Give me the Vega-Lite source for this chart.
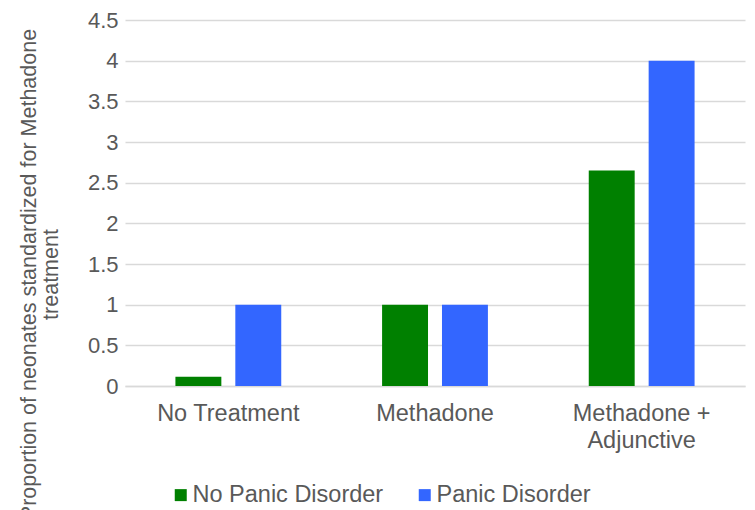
{
  "$schema": "https://vega.github.io/schema/vega-lite/v6.json",
  "width": 620,
  "height": 366,
  "autosize": {"type": "none"},
  "padding": {"left": 125, "top": 20, "right": 10, "bottom": 124},
  "background": "white",
  "config": {
    "view": {"stroke": null},
    "font": "Liberation Sans"
  },
  "data": {
    "values": [
      {"treatment": "No Treatment", "group": "No Panic Disorder", "value": 0.115},
      {"treatment": "No Treatment", "group": "Panic Disorder", "value": 1},
      {"treatment": "Methadone", "group": "No Panic Disorder", "value": 1},
      {"treatment": "Methadone", "group": "Panic Disorder", "value": 1},
      {"treatment": "Methadone + Adjunctive", "group": "No Panic Disorder", "value": 2.65},
      {"treatment": "Methadone + Adjunctive", "group": "Panic Disorder", "value": 4}
    ]
  },
  "mark": {"type": "bar"},
  "encoding": {
    "x": {
      "field": "treatment",
      "type": "nominal",
      "sort": ["No Treatment", "Methadone", "Methadone + Adjunctive"],
      "scale": {"paddingInner": 0, "paddingOuter": 0},
      "axis": {
        "title": null,
        "labelAngle": 0,
        "labelFontSize": 23.5,
        "labelColor": "#595959",
        "labelPadding": 15,
        "labelLineHeight": 27,
        "labelExpr": "datum.label == 'Methadone + Adjunctive' ? ['Methadone +', 'Adjunctive'] : datum.label",
        "ticks": false,
        "domainColor": "#d9d9d9",
        "domainWidth": 1.5,
        "grid": false
      }
    },
    "xOffset": {
      "field": "group",
      "type": "nominal",
      "sort": ["No Panic Disorder", "Panic Disorder"],
      "scale": {"paddingInner": 0.2333, "paddingOuter": 0.8417}
    },
    "y": {
      "field": "value",
      "type": "quantitative",
      "scale": {"domain": [0, 4.5], "nice": false},
      "axis": {
        "values": [0, 0.5, 1, 1.5, 2, 2.5, 3, 3.5, 4, 4.5],
        "format": "~g",
        "title": ["Proportion of neonates standardized for Methadone", "treatment"],
        "titleFontSize": 21.5,
        "titleFontWeight": "normal",
        "titleColor": "#595959",
        "titleLineHeight": 22,
        "titleX": -85,
        "titleY": 254,
        "titleAngle": -90,
        "titleAlign": "center",
        "titleBaseline": "bottom",
        "labelFontSize": 22,
        "labelColor": "#595959",
        "labelPadding": 7,
        "ticks": false,
        "domain": false,
        "gridColor": "#d9d9d9",
        "gridWidth": 1.3
      }
    },
    "color": {
      "field": "group",
      "type": "nominal",
      "sort": ["No Panic Disorder", "Panic Disorder"],
      "scale": {"domain": ["No Panic Disorder", "Panic Disorder"], "range": ["#008000", "#3366ff"]},
      "legend": {
        "title": null,
        "orient": "none",
        "direction": "horizontal",
        "legendX": 44,
        "legendY": 463,
        "symbolType": "square",
        "symbolSize": 144,
        "symbolStrokeWidth": 0,
        "labelFontSize": 23.5,
        "labelColor": "#595959",
        "labelOffset": 0,
        "columnPadding": 29,
        "labelLimit": 400
      }
    }
  }
}
